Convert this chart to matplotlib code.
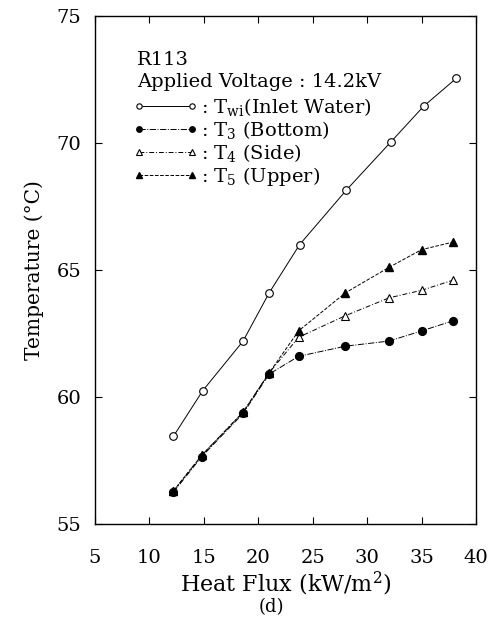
import matplotlib
matplotlib.use('Agg')
from matplotlib import pyplot as plt

plt.rcParams['font.family'] = ['DejaVu Serif']
plt.rcParams['mathtext.fontset'] = 'dejavuserif'

heat_flux = [12.2, 14.8, 18.6, 21.0, 23.7, 28.0, 32.0, 35.0, 37.9]
heat_flux_wi = [12.2, 14.9, 18.6, 21.0, 23.8, 28.1, 32.2, 35.2, 38.2]

t_wi = [58.45, 60.25, 62.2, 64.1, 66.0, 68.15, 70.05, 71.45, 72.55]
t_3 = [56.25, 57.65, 59.35, 60.9, 61.6, 62.0, 62.2, 62.6, 63.0]
t_4 = [56.3, 57.7, 59.4, 60.95, 62.35, 63.2, 63.9, 64.2, 64.6]
t_5 = [56.3, 57.7, 59.4, 60.95, 62.6, 64.1, 65.1, 65.8, 66.1]

fig = plt.figure(figsize=(4.98, 6.24), dpi=100)
ax = fig.add_axes([0.1908, 0.1603, 0.765, 0.8141])

lw = 0.7
ax.plot(heat_flux_wi, t_wi, color='black', lw=lw, ls='-', marker='o', ms=5.5,
        mfc='white', mec='black', mew=0.8, label=r': T$_{\rm wi}$(Inlet Water)')
ax.plot(heat_flux, t_3, color='black', lw=lw, ls='-.', marker='o', ms=5.6,
        mfc='black', mec='black', label=r': T$_3$ (Bottom)')
ax.plot(heat_flux, t_4, color='black', lw=lw, ls=(0, (5, 2, 1, 2)), marker='^', ms=5.5,
        mfc='white', mec='black', mew=0.8, label=r': T$_4$ (Side)')
ax.plot(heat_flux, t_5, color='black', lw=lw, ls='--', marker='^', ms=6,
        mfc='black', mec='black', label=r': T$_5$ (Upper)')

ax.set_xlim(5, 40)
ax.set_ylim(55, 75)
ax.set_xticks([5, 10, 15, 20, 25, 30, 35, 40])
ax.set_yticks([55, 60, 65, 70, 75])
ax.tick_params(direction='in', top=True, right=True, labelsize=14, length=5, width=0.8)
ax.tick_params(axis='x', pad=18)
ax.tick_params(axis='y', pad=10)
for s in ax.spines.values():
    s.set_linewidth(1.0)

ax.set_xlabel(r'Heat Flux (kW/m$^2$)', fontsize=16, labelpad=2)
ax.set_ylabel('Temperature (°C)', fontsize=14.5, labelpad=9)

ax.text(0.110, 0.913, 'R113', transform=ax.transAxes, fontsize=14, va='center')
ax.text(0.110, 0.870, 'Applied Voltage : 14.2kV', transform=ax.transAxes, fontsize=14, va='center')

leg = ax.legend(loc='upper left', bbox_to_anchor=(0.101, 0.842), frameon=False,
                numpoints=2, handlelength=3.3, handletextpad=0.15, fontsize=14,
                labelspacing=0.05, borderaxespad=0, borderpad=0, markerscale=0.7)

fig.text(0.544, 0.027, '(d)', ha='center', va='center', fontsize=13)

fig.savefig('out.png', dpi=100)
